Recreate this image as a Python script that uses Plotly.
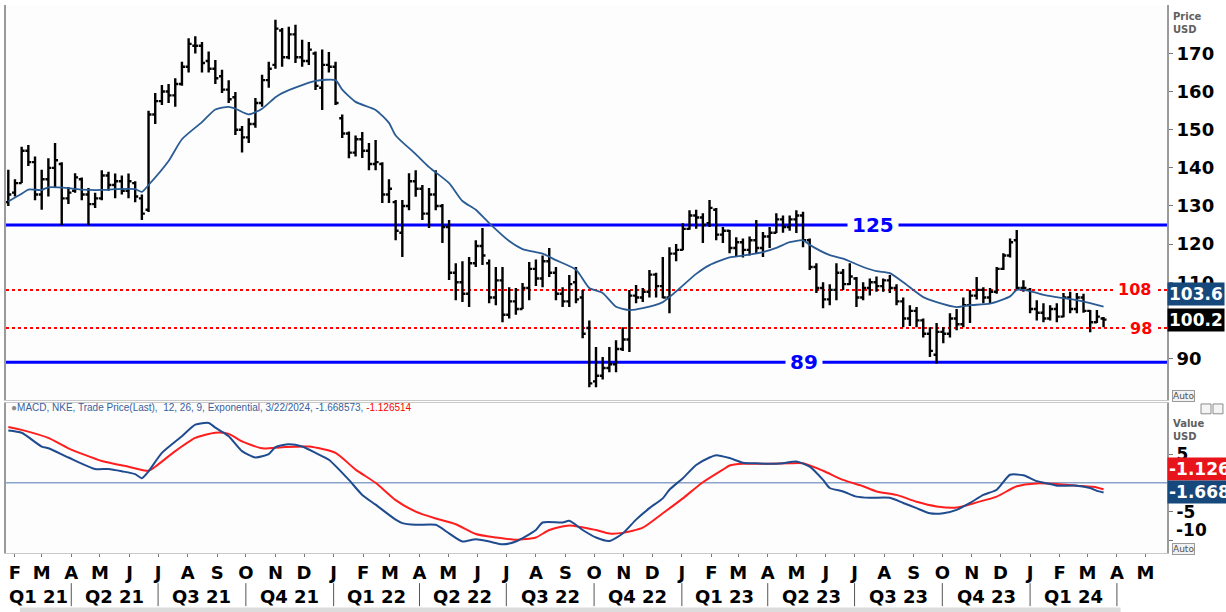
import pandas as pd
import plotly.graph_objects as go

# NKE weekly bars, one per week starting Monday 2021-01-25 up to the week of 2024-03-18
opens = [131, 133.5, 136, 144.5, 141.5, 133, 137, 140, 141, 132,
         134, 137, 133, 130.5, 132, 138, 135.5, 136.5, 134, 136,
         132, 129, 154, 157.5, 160, 159, 162, 166.5, 172, 172,
         168, 166, 164, 160.5, 158.5, 150, 148, 151.5, 157, 163,
         167, 176, 169, 175, 169, 168, 170, 161, 167, 166.5,
         153, 149, 144, 147.5, 144.5, 141, 141, 133, 131, 123,
         130, 136.5, 134.5, 128, 133, 130, 124.5, 112.5, 110, 107,
         115, 119.5, 115, 106, 110.5, 101.5, 105, 103, 108.5, 113.5,
         111, 115.5, 112.5, 107, 105, 110, 106, 98, 84, 85.5,
         87.5, 88.5, 92.5, 95, 106.5, 106, 107.5, 112, 109, 106,
         117.5, 118.5, 124, 127.5, 127, 125.5, 129, 122.5, 123.5, 119,
         120.5, 118.5, 121, 119, 122, 123, 126.5, 124.5, 126.5, 127.5,
         121, 114, 108.5, 105.5, 108, 112.5, 109.5, 111, 106, 108.5,
         110, 109, 110.5, 108.5, 105, 100.5, 102.5, 100, 96.5, 91,
         97, 96.5, 100.5, 99, 104, 106.5, 108, 106, 107.5, 113.5,
         117, 121, 108.5, 108, 103, 102, 100.5, 103, 101, 106,
         103, 106, 102.5, 99.5, 100.5]
highs = [139.5, 137, 145.5, 146, 143, 139.5, 142.5, 146.5, 141.5, 135,
         138.6, 137.5, 134.7, 133.5, 139.4, 139, 138.5, 138, 138.5, 136.5,
         133, 155, 159.6, 161.7, 162, 163.5, 167.8, 174, 174.5, 173,
         170.5, 168.3, 165.7, 163, 159.9, 151, 153, 158.3, 164.4, 167.8,
         178.8, 176.7, 177, 177.5, 173.6, 173, 170.5, 171, 170.4, 167.8,
         154, 149.5, 148.5, 149.4, 146.5, 147.3, 141.5, 137, 131.6, 131.6,
         138.6, 139.4, 135.5, 134.7, 139.4, 130.5, 126.3, 115, 115.5, 116.6,
         121, 124.2, 116, 114, 114, 108.7, 108.5, 109.8, 115.3, 116,
         117, 119, 114, 108.7, 111.9, 114, 108, 100, 93, 90.4,
         93, 94.8, 98.2, 108, 109.3, 108.5, 113.2, 112.5, 116.6, 119.2,
         120, 125.5, 128.9, 129, 128.1, 131.6, 129.5, 124.5, 123.7, 121.8,
         121.5, 122, 126.3, 123.2, 124.5, 128.1, 127.5, 127.5, 128.9, 128.5,
         121.5, 115, 110, 109.5, 115, 113.5, 115, 111.4, 110, 111,
         111.5, 111, 111.9, 109.5, 106, 104, 103.5, 100.5, 98.2, 99.3,
         98.2, 101.9, 103, 106, 108, 111.4, 108.7, 108.5, 114, 117.6,
         121.5, 123.7, 110.5, 108.5, 105.3, 104.5, 104, 104.5, 107.2, 107.5,
         107.2, 107, 102.7, 102.7, 100.9]
lows = [130, 132.5, 136, 140.5, 131.5, 129, 132.5, 135, 125, 130.5,
        133.5, 131.5, 125, 129.5, 131.5, 134, 132, 133, 132, 131,
        126.3, 128.4, 151.5, 156.5, 157, 156, 161.5, 165, 170, 165,
        165, 162, 159.6, 157, 148.6, 144, 146.5, 150.5, 156, 161,
        166, 166.5, 168.5, 167.5, 166.5, 167, 160.4, 155.2, 165, 156.5,
        147.8, 142.5, 143, 142.6, 139.4, 139.4, 130.8, 130.8, 121, 116.6,
        128.9, 132.4, 126.3, 124.2, 128.9, 120.3, 110.6, 105.3, 104.8, 103.5,
        114, 114.5, 104.5, 104, 99.5, 100.5, 101.5, 103, 105.3, 109,
        108.7, 111.4, 105.3, 103.5, 103.5, 104.5, 95.3, 82.5, 82.5, 84.5,
        86.4, 86.4, 92, 91.7, 104.5, 104.8, 106, 106, 105.8, 101.9,
        115.5, 118.4, 123.8, 124, 120.3, 124.5, 121, 120.3, 117.6, 116.6,
        116.5, 117, 117.6, 116.6, 119, 122.9, 123, 123.5, 122.9, 119.2,
        113.2, 107.2, 103.2, 104, 105.3, 108, 109.3, 103.5, 105.3, 106.5,
        107.5, 107.5, 107.2, 104, 98.2, 98.5, 98.2, 95.5, 90.4, 88.7,
        94, 95.5, 97.4, 98.2, 99.3, 105.5, 104.5, 104.5, 107, 113.2,
        116.5, 108, 107.5, 101.9, 100, 99.5, 100, 99.5, 100.8, 101.9,
        101.9, 102, 96.9, 99.3, 98.2]
closes = [133, 136, 144.5, 141.5, 133, 137, 140, 142, 132, 133.5,
          137.5, 133, 130.5, 132, 138, 135.5, 136.5, 134, 136.5, 132.5,
          128, 154, 157.5, 160, 159, 162, 166.5, 172.5, 172, 167.5,
          166, 163.5, 160.5, 158, 150, 148, 151.5, 157, 163, 166,
          176.5, 169, 175, 169, 168, 171, 161.5, 167, 166.5, 157,
          149, 144, 147.5, 144.5, 141, 141.5, 133, 134.5, 123.5, 130,
          136.5, 134.5, 128, 133, 130, 124.5, 112.5, 110, 107, 115,
          119.5, 117, 106, 110.5, 101.5, 105, 103, 108.5, 113.5, 111,
          115.5, 112.5, 107, 105, 109.5, 105.5, 96.5, 83.5, 85.5, 87.5,
          88.5, 92.5, 95, 106.5, 106, 107.5, 112, 109, 106, 117.5,
          118.5, 124, 127.5, 127, 125, 129.5, 122.5, 123.5, 119, 120.5,
          118.5, 121, 119, 122, 123, 126.5, 124.5, 126.5, 127.5, 121,
          114, 108.5, 105.5, 108, 112.5, 109.5, 111.5, 106, 108.5, 110,
          109, 110.5, 108.5, 105, 100.5, 102.5, 100, 96.5, 92, 97,
          96.5, 100.5, 99, 104, 106.5, 108, 106, 107.5, 113.5, 117,
          120.5, 108.5, 108.5, 103, 102, 100.5, 103, 101, 106, 103,
          106, 102.5, 99.5, 101, 100.2]

# moving average (at these week numbers)
ma_week = [0, 2, 3, 5, 6, 9, 11, 14, 16, 19, 20, 21, 24, 26, 29, 31, 33, 34, 36, 38,
           40, 41, 44, 46, 49, 50, 52, 55, 57, 58, 61, 63, 66, 68, 70, 72, 75, 77, 80, 82,
           85, 87, 89, 91, 93, 95, 98, 100, 103, 105, 108, 110, 113, 115, 117, 119, 120, 123, 125, 128,
           130, 132, 134, 137, 139, 142, 144, 147, 150, 151, 153, 155, 157, 160, 162, 164]
ma_value = [131.2, 133.2, 134.3, 134.2, 134.9, 134.7, 134.3, 134.2, 134.4, 134.4,
            133.7, 135.5, 141.8, 147.5, 152, 155.3, 156, 155.5, 154, 155.5,
            158.5, 159.6, 161.7, 162.8, 163, 160.5, 157.3, 155.2, 151.8, 148.5,
            143.6, 140.2, 136, 131.3, 129, 125.5, 120.8, 118.7, 117.5, 115.8,
            113.3, 108.5, 107.2, 103.6, 102.7, 103.2, 104.8, 107.6, 112.2, 114.5,
            116.5, 117, 117.9, 119, 120.5, 121, 119.8, 117.1, 116.2, 114,
            112.9, 112.4, 110, 106.1, 104.8, 103.5, 104, 104.4, 106.3, 108,
            107.7, 106.7, 106.1, 105.3, 104.5, 103.6]

# MACD 12/26/9 line and signal line
macd_week = [0, 2, 5, 6, 9, 13, 15, 17, 19, 20, 21, 23, 26, 28, 30, 31, 33, 35, 37, 39,
             40, 42, 44, 46, 48, 51, 53, 55, 58, 59, 61, 64, 66, 68, 70, 72, 74, 76, 79, 80,
             83, 84, 86, 88, 90, 92, 94, 96, 98, 99, 101, 103, 105, 106, 108, 110, 112, 114, 116, 118,
             120, 122, 123, 125, 127, 129, 132, 134, 136, 138, 140, 142, 144, 146, 148, 150, 152, 154, 156, 157,
             160, 162, 163, 164]
macd_value = [9.1, 8.7, 6.3, 6.0, 4.4, 2.4, 2.4, 2.0, 1.5, 0.8, 2.0, 5.2, 8.1, 10.1, 10.4, 9.6, 8.1, 5.5, 4.4, 5.0,
              6.2, 6.7, 6.3, 5.2, 4.0, 0.5, -2.1, -3.8, -6.4, -7.0, -7.3, -7.3, -8.8, -10.2, -9.8, -10.2, -10.7, -10.2, -8.2, -6.9,
              -6.9, -6.6, -8.2, -9.5, -10.1, -8.8, -6.4, -4.4, -2.7, -1.2, 0.8, 3.1, 4.4, 4.8, 4.3, 3.5, 3.4, 3.3, 3.4, 3.7,
              2.8, 0.5, -0.9, -1.5, -2.4, -2.6, -2.6, -3.5, -4.4, -5.3, -5.3, -4.7, -3.5, -2.1, -1.2, 1.4, 1.3, 0.3, -0.2, -0.5,
              -0.5, -0.9, -1.4, -1.67]
signal_week = [0, 2, 6, 9, 14, 18, 21, 22, 25, 28, 31, 33, 35, 38, 41, 45, 49, 52, 55, 58,
               61, 64, 67, 70, 73, 76, 79, 81, 84, 88, 90, 92, 95, 98, 101, 104, 107, 108, 110, 114,
               117, 119, 122, 125, 128, 130, 133, 136, 139, 142, 145, 148, 151, 154, 157, 160, 163, 164]
signal_value = [9.7, 9.2, 7.8, 6.0, 3.8, 2.8, 2.1, 2.8, 5.5, 7.8, 8.7, 8.5, 7.2, 6.0, 6.2, 6.3, 5.2, 2.3, 0.0, -3.0,
                -5.0, -6.2, -7.2, -8.9, -9.5, -9.9, -9.5, -8.2, -7.4, -8.2, -8.8, -8.7, -7.8, -5.3, -2.7, 0.1, 2.3, 3.0, 3.3, 3.3,
                3.4, 3.4, 2.1, 0.5, -0.6, -1.5, -2.1, -3.3, -4.1, -4.3, -3.4, -2.4, -0.6, -0.1, -0.2, -0.5, -0.8, -1.13]

blue_levels = [125, 89]
red_levels = [108, 98]
last_close = 100.2
last_ma = 103.6
last_signal = -1.126
last_macd = -1.668

FONT = "DejaVu Sans"
NAVY = "#17487C"

weeks = pd.date_range("2021-01-25", periods=len(closes), freq="7D")
x_start = pd.Timestamp("2021-01-22 14:00")
x_end = pd.Timestamp("2024-05-23 12:00")

fig = go.Figure()

fig.add_trace(go.Ohlc(
    x=weeks, open=opens, high=highs, low=lows, close=closes,
    increasing_line_color="black", decreasing_line_color="black",
    line=dict(width=2.4), tickwidth=0.45, xaxis="x", yaxis="y", hoverinfo="skip"
))
fig.add_trace(go.Scatter(
    x=weeks[ma_week], y=ma_value, mode="lines",
    line=dict(color="#2A5B94", width=1.8, shape="spline", smoothing=0.6),
    xaxis="x", yaxis="y", hoverinfo="skip"
))
fig.add_trace(go.Scatter(
    x=weeks[signal_week], y=signal_value, mode="lines",
    line=dict(color="#FF1E1E", width=2, shape="spline", smoothing=0.6),
    xaxis="x2", yaxis="y2", hoverinfo="skip"
))
fig.add_trace(go.Scatter(
    x=weeks[macd_week], y=macd_value, mode="lines",
    line=dict(color="#1F4B8F", width=2, shape="spline", smoothing=0.6),
    xaxis="x2", yaxis="y2", hoverinfo="skip"
))

shapes = []
annotations = []

# support / resistance levels
level_label_x = {125: "2023-07-20", 89: "2023-05-09", 108: "2024-04-19", 98: "2024-04-26"}
for lv in blue_levels:
    shapes.append(dict(type="line", xref="x", yref="y", x0=x_start, x1=x_end, y0=lv, y1=lv,
                       line=dict(color="#0000FF", width=3), layer="below"))
    annotations.append(dict(xref="x", yref="y", x=level_label_x[lv], y=lv, text=f"<b>{lv}</b>",
                            showarrow=False, bgcolor="#FDFDFD", borderpad=4,
                            font=dict(family=FONT, size=20, color="#0000FF")))
for lv in red_levels:
    shapes.append(dict(type="line", xref="x", yref="y", x0=x_start, x1=x_end, y0=lv, y1=lv,
                       line=dict(color="#FF0000", width=2, dash="dot"), layer="below"))
    annotations.append(dict(xref="x", yref="y", x=level_label_x[lv], y=lv, text=f"<b>{lv}</b>",
                            showarrow=False, bgcolor="#FDFDFD", borderpad=4,
                            font=dict(family=FONT, size=16, color="#FF0000")))

# MACD zero line
shapes.append(dict(type="line", xref="x2", yref="y2", x0=x_start, x1=x_end, y0=0, y1=0,
                   line=dict(color="#8AA4CC", width=1.5), layer="below"))

# month ticks and quarter row
months = pd.date_range("2021-02-01", "2024-05-01", freq="MS")
month_text = ["JFMAMJJASOND"[d.month - 1] for d in months]
q_starts = pd.date_range("2021-01-01", "2024-01-01", freq="QS")
for qs in q_starts:
    qe = qs + pd.offsets.QuarterBegin(startingMonth=1)
    left = max(qs, x_start)
    mid = left + (qe - left) / 2
    annotations.append(dict(xref="x", yref="paper", x=mid, y=-0.080, text=f"<b>Q{(qs.month - 1) // 3 + 1} {qs.year % 100}</b>",
                            showarrow=False, yanchor="middle", font=dict(family=FONT, size=18, color="black")))
    shapes.append(dict(type="line", xref="x", yref="paper", x0=qe, x1=qe, y0=-0.055, y1=-0.097,
                       line=dict(color="#555555", width=1)))
# scrollbar strip at the bottom
shapes.append(dict(type="rect", xref="paper", yref="paper", x0=0.012, x1=0.96, y0=-0.1077, y1=-0.0995,
                   line=dict(width=0), fillcolor="#DCDCDC"))

# last-value tags on the right
tags = [(f"{last_ma}", last_ma, "y", 13, NAVY),
        (f"{last_close}", last_close, "y", 0, "black"),
        (f"{last_signal:.3f}", last_signal, "y2", 20, "#E8141B"),
        (f"{last_macd:.3f}", last_macd, "y2", 0, NAVY)]
for txt, val, yr, ysh, col in tags:
    annotations.append(dict(xref="paper", yref=yr, x=1, y=val, yshift=ysh, xanchor="left", yanchor="middle",
                            text=f"<b>{txt}</b>", showarrow=False, bgcolor=col, borderpad=1,
                            font=dict(family=FONT, size=17, color="white")))

small = dict(family=FONT, size=10, color="#606060")
annotations += [
    dict(xref="paper", yref="paper", x=1, xshift=4, y=0.993, xanchor="left", yanchor="top",
         text="<b>Price<br>USD</b>", showarrow=False, align="left", font=small),
    dict(xref="paper", yref="paper", x=1, xshift=4, y=0.250, xanchor="left", yanchor="top",
         text="<b>Value<br>USD</b>", showarrow=False, align="left", font=small),
    dict(xref="paper", yref="paper", x=1, xshift=5, y=0.2865, xanchor="left", yanchor="middle",
         text="Auto", showarrow=False, bordercolor="#9A9A9A", borderwidth=1, borderpad=0, bgcolor="#F2F2F2",
         font=dict(family=FONT, size=9, color="#505050")),
    dict(xref="paper", yref="paper", x=1, xshift=5, y=0.0073, xanchor="left", yanchor="middle",
         text="Auto", showarrow=False, bordercolor="#9A9A9A", borderwidth=1, borderpad=0, bgcolor="#F2F2F2",
         font=dict(family=FONT, size=9, color="#505050")),
    dict(xref="paper", yref="y2", x=1, xshift=7, y=-10, yshift=10, xanchor="left", yanchor="middle",
         text="<b>-10</b>", showarrow=False, font=dict(family=FONT, size=17, color="black")),
    dict(xref="paper", yref="paper", x=0, xshift=3, y=0.2646, xanchor="left", yanchor="middle",
         text="<span style='color:#8C8C8C'>●</span>MACD, NKE, Trade Price(Last),  12, 26, 9, Exponential, 3/22/2024, -1.668573, "
              "<span style='color:#FF0000'>-1.126514</span>",
         showarrow=False, font=dict(family="Liberation Sans", size=10, color="#3A5E9C")),
]
for bx in (1.0293, 1.0396):
    shapes.append(dict(type="rect", xref="paper", yref="paper", x0=bx, x1=bx + 0.0086, y0=0.254, y1=0.272,
                       line=dict(color="#8C8C8C", width=1), fillcolor="#F4F4F4"))

tickfont = dict(family=FONT, size=18, color="black", weight="bold")
# 100 and 0 sit behind the last-value tags in the original, so their labels are left blank
price_ticks = list(range(90, 171, 10))
price_text = ["" if t == 100 else str(t) for t in price_ticks]
fig.update_layout(
    width=1226, height=612,
    margin=dict(l=6, r=59, t=5, b=59),
    paper_bgcolor="white", plot_bgcolor="#FDFDFD",
    showlegend=False,
    shapes=shapes, annotations=annotations,
    xaxis=dict(domain=[0, 1], anchor="y", range=[x_start, x_end], showticklabels=False, showgrid=False,
               zeroline=False, rangeslider=dict(visible=False), showline=True, linecolor="#C8C8C8", ticks=""),
    yaxis=dict(domain=[0.279, 1], anchor="x", side="right", range=[79.1, 182.7],
               tickvals=price_ticks, ticktext=price_text, ticks="outside", ticklen=4, tickcolor="#777777",
               showgrid=False, zeroline=False, showline=True, mirror=True, linecolor="#9A9A9A", linewidth=2,
               tickfont=tickfont),
    xaxis2=dict(domain=[0, 1], anchor="y2", range=[x_start, x_end], tickvals=months, ticktext=month_text,
                ticks="outside", ticklen=3, tickcolor="#777777", showgrid=False, zeroline=False,
                showline=True, mirror=True, linecolor="#C8C8C8", tickfont=tickfont),
    yaxis2=dict(domain=[0, 0.274], anchor="x2", side="right", range=[-12.2, 13.9],
                tickvals=[5, 0, -5, -10], ticktext=["5", "", "-5", ""], ticks="outside", ticklen=4,
                tickcolor="#777777", showgrid=False, zeroline=False, showline=True, mirror=True,
                linecolor="#9A9A9A", linewidth=2, tickfont=dict(family=FONT, size=17, color="black", weight="bold")),
)

# the page would otherwise push the figure 8px down and right
fig.write_html("out.html", config={"displayModeBar": False},
               post_script="document.body.style.margin='0px';")
